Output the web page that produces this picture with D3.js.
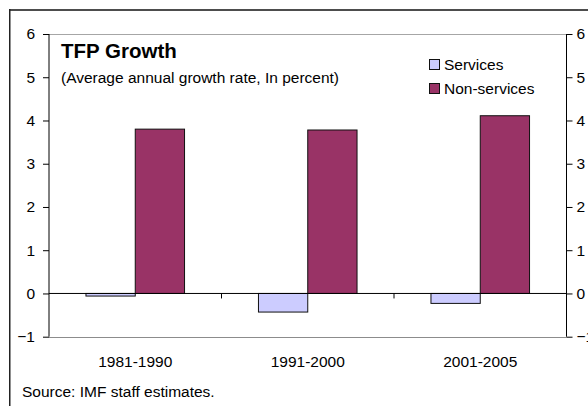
<!DOCTYPE html>
<html>
<head>
<meta charset="utf-8">
<script src="https://cdn.jsdelivr.net/npm/d3@7"></script>
<style>
  html, body { margin: 0; padding: 0; background: #fff; }
  svg { display: block; font-family: "Liberation Sans", Arial, sans-serif; }
</style>
</head>
<body>
<svg id="chart" width="588" height="406"></svg>
<script>
// TFP growth by period, services vs non-services (percent)
const periods = ["1981-1990", "1991-2000", "2001-2005"];
const seriesNames = ["Services", "Non-services"];
const services = [-0.06, -0.43, -0.23];
const nonServices = [3.80, 3.78, 4.11];
const yTicks = [-1, 0, 1, 2, 3, 4, 5, 6];
const colors = { "Services": "#CCCCFF", "Non-services": "#993366" };

const svg = d3.select("#chart");
const fs = 15.5;

// outer frame (extends beyond the visible area on right and bottom)
svg.append("line").attr("x1", 9).attr("x2", 600).attr("y1", 10).attr("y2", 10)
  .attr("stroke", "#4d4d4d").attr("stroke-width", 2);
svg.append("line").attr("x1", 9.75).attr("x2", 9.75).attr("y1", 9).attr("y2", 420)
  .attr("stroke", "#222").attr("stroke-width", 1.5);

const plot = { left: 49, right: 566.5, top: 34, bottom: 336.7 };

const y = d3.scaleLinear().domain([-1, 6]).range([plot.bottom, plot.top]);
const x0 = d3.scaleBand().domain(periods).range([plot.left, plot.right]).padding(0);
const bw = x0.bandwidth();
const barW = bw / 3.5;
const x1 = d3.scaleBand().domain(seriesNames)
  .range([(bw - 2 * barW) / 2, (bw + 2 * barW) / 2]).padding(0);

// plot area top / bottom borders
svg.append("line").attr("x1", plot.left).attr("x2", plot.right)
  .attr("y1", plot.top + 0.5).attr("y2", plot.top + 0.5)
  .attr("stroke", "#a6a6a6").attr("stroke-width", 1);
svg.append("line").attr("x1", plot.left).attr("x2", plot.right)
  .attr("y1", Math.round(plot.bottom) + 0.5).attr("y2", Math.round(plot.bottom) + 0.5)
  .attr("stroke", "#8c8c8c").attr("stroke-width", 1);

// bars
const rows = periods.map((p, i) => ({ period: p, values: [
  { key: "Services", value: services[i] },
  { key: "Non-services", value: nonServices[i] }
]}));

const g = svg.append("g");
rows.forEach(r => {
  g.selectAll(null).data(r.values).enter().append("rect")
    .attr("x", d => x0(r.period) + x1(d.key))
    .attr("width", x1.bandwidth())
    .attr("y", d => y(Math.max(0, d.value)))
    .attr("height", d => Math.abs(y(d.value) - y(0)))
    .attr("fill", d => colors[d.key])
    .attr("stroke", "#111")
    .attr("stroke-width", 1);
});

// zero line with category tick marks
svg.append("line").attr("x1", plot.left).attr("x2", plot.right)
  .attr("y1", y(0)).attr("y2", y(0)).attr("stroke", "#000").attr("stroke-width", 1);
periods.slice(1).forEach(p => {
  svg.append("line").attr("x1", x0(p)).attr("x2", x0(p))
    .attr("y1", y(0)).attr("y2", y(0) + 5).attr("stroke", "#000");
});

// left and right value axes
const leftAxis = d3.axisLeft(y).tickValues(yTicks).tickSize(6).tickPadding(8).tickFormat(d3.format("d"));
const rightAxis = d3.axisRight(y).tickValues(yTicks).tickSize(6).tickPadding(4).tickFormat(d3.format("d"));

const la = svg.append("g").attr("transform", `translate(${plot.left},0)`).call(leftAxis);
const ra = svg.append("g").attr("transform", `translate(${plot.right},0)`).call(rightAxis);
[la, ra].forEach(a => {
  a.select(".domain").attr("stroke", "#000");
  a.selectAll(".tick line").attr("stroke", "#000");
  a.selectAll("text").attr("font-size", fs).attr("fill", "#000")
    .attr("font-family", "Liberation Sans, Arial, sans-serif");
});
la.select(".domain").attr("d", `M0,${plot.top}V${plot.bottom}`);
ra.select(".domain").attr("d", `M0,${plot.top}V${plot.bottom}`);

// category labels
svg.selectAll(null).data(periods).enter().append("text")
  .attr("x", d => x0(d) + bw / 2).attr("y", 366.5)
  .attr("text-anchor", "middle").attr("font-size", fs).text(d => d);

// title and subtitle
svg.append("text").attr("x", 61).attr("y", 58.3)
  .attr("font-size", 20.5).attr("font-weight", "bold").text("TFP Growth");
svg.append("text").attr("x", 61).attr("y", 82.8)
  .attr("font-size", fs).text("(Average annual growth rate, In percent)");

// legend
const legend = svg.append("g");
seriesNames.forEach((s, i) => {
  legend.append("rect").attr("x", 429.5).attr("y", 59.5 + i * 24)
    .attr("width", 10).attr("height", 10)
    .attr("fill", colors[s]).attr("stroke", "#111").attr("stroke-width", 1);
  legend.append("text").attr("x", 444).attr("y", 70 + i * 24)
    .attr("font-size", fs).text(s);
});

// source note
svg.append("text").attr("x", 22).attr("y", 396.5)
  .attr("font-size", fs).text("Source: IMF staff estimates.");
</script>
</body>
</html>
